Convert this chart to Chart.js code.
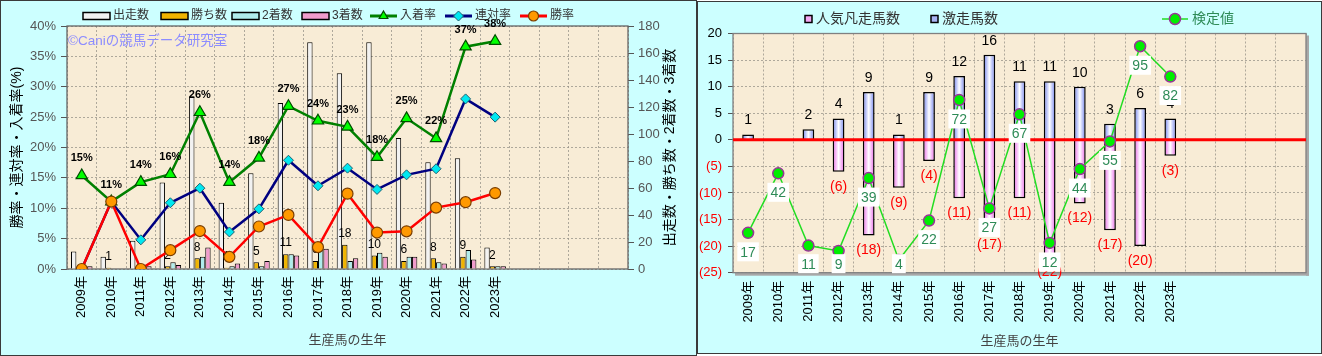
<!DOCTYPE html>
<html><head><meta charset="utf-8">
<script src="https://cdn.jsdelivr.net/npm/chart.js@4/dist/chart.umd.min.js"></script>
<style>
html,body{margin:0;padding:0;background:#fff;width:1322px;height:356px;overflow:hidden;}
#c1{position:absolute;left:0;top:0;}
#c2{position:absolute;left:697px;top:0;}
</style></head><body>
<canvas id="c1" width="697" height="356"></canvas>
<canvas id="c2" width="625" height="356"></canvas>
<script>
// ---------- data ----------
const categories = ['2009年','2010年','2011年','2012年','2013年','2014年','2015年','2016年','2017年','2018年','2019年','2020年','2021年','2022年','2023年','','','',''];
const runs     = [13, 9, 21, 64, 128, 49, 71, 123, 168, 145, 168, 97, 79, 82, 16];
const wins     = [0, 1, 0, 2, 8, 1, 5, 11, 6, 18, 10, 6, 8, 9, 2];
const seconds  = [0, 0, 1, 5, 9, 2, 2, 11, 16, 6, 12, 9, 5, 14, 2];
const thirds   = [2, 0, 2, 3, 16, 4, 6, 10, 15, 8, 9, 9, 4, 7, 2];
const placeRate    = [15.4, 11.1, 14.3, 15.6, 25.8, 14.3, 18.3, 26.8, 24.4, 23.4, 18.4, 24.8, 21.5, 36.6, 37.5];
const quinellaRate = [0, 11.1, 4.8, 10.9, 13.3, 6.1, 9.9, 17.9, 13.7, 16.6, 13.1, 15.5, 16.5, 28.0, 25.0];
const winRate      = [0, 11.1, 0, 3.1, 6.25, 2.0, 7.0, 8.9, 3.6, 12.4, 6.0, 6.2, 10.1, 11.0, 12.5];
const longshotCount = [1, 0, 2, 4, 9, 1, 9, 12, 16, 11, 11, 10, 3, 6, 4];
const favFlopCount  = [0, 0, 0, -6, -18, -9, -4, -11, -17, -11, -22, -12, -17, -20, -3];
const testPlot  = [-17.5, -6.3, -19.9, -20.9, -7.2, -22.6, -15.2, 7.5, -12.9, 4.8, -19.4, -5.5, -0.3, 17.6, 11.9];
const testValue = [17, 42, 11, 9, 39, 4, 22, 72, 27, 67, 12, 44, 55, 95, 82];
const leftAxisTitle = '勝率・連対率・入着率(%)';
const rightAxisTitle = '出走数・勝ち数・2着数・3着数';
const xAxisTitle = '生産馬の生年';
const watermark = '©Caniの競馬データ研究室';

Chart.defaults.font.family = "'Liberation Sans','Noto Sans CJK JP',sans-serif";

// ---------- plugins ----------
const panelPlugin = {
  id: 'panel',
  beforeDraw(chart, args, o) {
    const {ctx, chartArea: a} = chart;
    ctx.save();
    ctx.fillStyle = '#ccffff';
    ctx.fillRect(o.x, o.y, o.w, o.h);
    ctx.strokeStyle = '#3a3a3a'; ctx.lineWidth = 1;
    ctx.strokeRect(o.x + 0.5, o.y + 0.5, o.w - 1, o.h - 1);
    ctx.fillStyle = '#f8ecd6';
    ctx.fillRect(a.left, a.top, a.right - a.left, a.bottom - a.top);
    ctx.restore();
  },
  beforeDatasetsDraw(chart, args, o) {
    const {ctx, chartArea: a} = chart;
    ctx.save();
    if (o.shadow) {
      ctx.fillStyle = '#a8a8a8';
      ctx.fillRect(a.right, a.top + 2, 3, a.bottom - a.top + 1);
      ctx.fillRect(a.left + 2, a.bottom, a.right - a.left + 1, 3);
    }
    ctx.strokeStyle = o.frame; ctx.lineWidth = 1.3;
    ctx.strokeRect(a.left, a.top, a.right - a.left, a.bottom - a.top);
    ctx.restore();
  }
};

const legendPlugin = {
  id: 'sideLegend',
  afterDraw(chart, args, o) {
    const ctx = chart.ctx;
    ctx.save();
    ctx.font = o.font;
    ctx.textBaseline = 'middle';
    ctx.textAlign = 'left';
    chart.data.datasets.forEach((ds, i) => {
      const x = o.xs[i], y = o.y;
      if (ds.type === 'line') {
        ctx.strokeStyle = ds.borderColor; ctx.lineWidth = o.lineWidth || ds.borderWidth;
        ctx.beginPath(); ctx.moveTo(x, y); ctx.lineTo(x + o.lineW, y); ctx.stroke();
        ctx.fillStyle = ds.pointBackgroundColor; ctx.strokeStyle = ds.pointBorderColor; ctx.lineWidth = ds.pointBorderWidth;
        Chart.helpers.drawPoint(ctx, {pointStyle: ds.pointStyle || 'circle', radius: o.pointR || ds.pointRadius, rotation: 0, borderWidth: ds.pointBorderWidth}, x + o.lineW / 2, y);
        ctx.fillStyle = o.lineTextColor || o.textColor;
        ctx.fillText(ds.label, x + o.lineW + o.gap, y);
      } else {
        const w = o.boxW, h = o.boxH;
        ctx.fillStyle = o.boxFill[i];
        ctx.fillRect(x, y - h / 2, w, h);
        ctx.strokeStyle = '#000'; ctx.lineWidth = 1.5;
        ctx.strokeRect(x, y - h / 2, w, h);
        ctx.fillStyle = o.textColor;
        ctx.fillText(ds.label, x + w + o.gap, y);
      }
    });
    ctx.restore();
  }
};

const leftLabels = {
  id: 'leftLabels',
  beforeDatasetsDraw(chart) {
    const ctx = chart.ctx;
    ctx.save();
    ctx.fillStyle = '#8c8cff';
    ctx.font = "13.5px 'Liberation Sans','Noto Sans CJK JP'";
    ctx.textBaseline = 'middle'; ctx.textAlign = 'left';
    ctx.fillText(watermark, chart.chartArea.left + 1, 41);
    ctx.restore();
  },
  afterDatasetDraw(chart, args) {
    if (args.index !== 0) return;
    const ctx = chart.ctx;
    const meta = chart.getDatasetMeta(1);
    ctx.save();
    ctx.fillStyle = '#000';
    ctx.font = "12px 'Liberation Sans'";
    ctx.textAlign = 'center'; ctx.textBaseline = 'middle';
    wins.forEach((v, i) => {
      if (!v) return;
      const el = meta.data[i];
      ctx.fillText(String(v), el.x, el.y - 11);
    });
    ctx.restore();
  },
  afterDatasetsDraw(chart) {
    const ctx = chart.ctx;
    const meta = chart.getDatasetMeta(4);
    ctx.save();
    ctx.fillStyle = '#000';
    ctx.font = "bold 11px 'Liberation Sans'";
    ctx.textAlign = 'center'; ctx.textBaseline = 'middle';
    placeRate.forEach((v, i) => {
      const el = meta.data[i];
      ctx.fillText(Math.round(v) + '%', el.x, el.y - 17);
    });
    // right axis title (reads bottom to top)
    const a = chart.chartArea;
    ctx.font = "14px 'Liberation Sans','Noto Sans CJK JP'";
    ctx.translate(670, (a.top + a.bottom) / 2);
    ctx.rotate(-Math.PI / 2);
    ctx.fillText(rightAxisTitle, 0, 0);
    ctx.restore();
  }
};

const rightLabels = {
  id: 'rightLabels',
  beforeDatasetDraw(chart, args) {
    if (args.meta.type !== 'line') return;
    const {ctx, chartArea: a, scales} = chart;
    const y0 = scales.y.getPixelForValue(0);
    ctx.save();
    ctx.strokeStyle = '#ff0000'; ctx.lineWidth = 3;
    ctx.beginPath(); ctx.moveTo(a.left, y0); ctx.lineTo(a.right, y0); ctx.stroke();
    ctx.font = "14px 'Liberation Sans'";
    ctx.textAlign = 'center'; ctx.textBaseline = 'middle';
    const mPos = chart.getDatasetMeta(1), mNeg = chart.getDatasetMeta(0);
    longshotCount.forEach((v, i) => {
      if (!v) return;
      ctx.fillStyle = '#000';
      ctx.fillText(String(v), mPos.data[i].x, mPos.data[i].y - 14);
    });
    favFlopCount.forEach((v, i) => {
      if (!v) return;
      ctx.fillStyle = '#ff0000';
      ctx.fillText('(' + (-v) + ')', mNeg.data[i].x, mNeg.data[i].y + 15);
    });
    ctx.restore();
  },
  afterDatasetsDraw(chart) {
    const {ctx, chartArea: a} = chart;
    const meta = chart.getDatasetMeta(2);
    ctx.save();
    ctx.font = "14px 'Liberation Sans'";
    ctx.textAlign = 'center'; ctx.textBaseline = 'middle';
    testValue.forEach((v, i) => {
      const el = meta.data[i];
      const t = String(v);
      const w = ctx.measureText(t).width + 6, h = 19;
      const cy = Math.min(el.y + 19, a.bottom - 9);
      ctx.fillStyle = '#ffffff';
      ctx.fillRect(el.x - w / 2, cy - h / 2, w, h);
      ctx.fillStyle = '#2e8b57';
      ctx.fillText(t, el.x, cy + 1);
    });
    ctx.restore();
  }
};

function barGrad(edge) {
  return (c) => {
    const ch = c.chart, a = ch.chartArea;
    if (!a || c.type !== 'data') return edge;
    const cx = ch.scales.x.getPixelForValue(c.dataIndex);
    const bw = (a.right - a.left) / ch.data.labels.length * 0.39;
    const g = ch.ctx.createLinearGradient(cx - bw / 2, 0, cx + bw / 2, 0);
    g.addColorStop(0, edge); g.addColorStop(0.5, '#ffffff'); g.addColorStop(1, edge);
    return g;
  };
}

const gridColor = 'rgba(150,145,135,0.75)';

// ---------- left chart ----------
new Chart(document.getElementById('c1'), {
  type: 'bar',
  data: {
    labels: categories,
    datasets: [
      {label: '出走数', data: runs, yAxisID: 'y2', backgroundColor: '#f2f2f2', borderColor: '#000', borderWidth: 1, order: 10, categoryPercentage: 0.73, barPercentage: 1},
      {label: '勝ち数', data: wins, yAxisID: 'y2', backgroundColor: '#f0b400', borderColor: '#000', borderWidth: 1, order: 10, categoryPercentage: 0.73, barPercentage: 1},
      {label: '2着数', data: seconds, yAxisID: 'y2', backgroundColor: '#b0ecec', borderColor: '#000', borderWidth: 1, order: 10, categoryPercentage: 0.73, barPercentage: 1},
      {label: '3着数', data: thirds, yAxisID: 'y2', backgroundColor: '#f09ccc', borderColor: '#000', borderWidth: 1, order: 10, categoryPercentage: 0.73, barPercentage: 1},
      {type: 'line', label: '入着率', data: placeRate, yAxisID: 'y', borderColor: '#008000', borderWidth: 2.5, pointStyle: 'triangle', pointRadius: 6.5, pointBackgroundColor: '#00ff00', pointBorderColor: '#004d00', pointBorderWidth: 1.2, order: 3},
      {type: 'line', label: '連対率', data: quinellaRate, yAxisID: 'y', borderColor: '#000080', borderWidth: 2.5, pointStyle: 'rectRot', pointRadius: 5, pointBackgroundColor: '#00e8f0', pointBorderColor: '#206070', pointBorderWidth: 1, order: 2},
      {type: 'line', label: '勝率', data: winRate, yAxisID: 'y', borderColor: '#ff0000', borderWidth: 2.5, pointStyle: 'circle', pointRadius: 5.5, pointBackgroundColor: '#ff9900', pointBorderColor: '#7a3d00', pointBorderWidth: 1.2, order: 1}
    ]
  },
  options: {
    responsive: false, animation: false,
    layout: {padding: {top: 26, left: 0, right: 0, bottom: 0}},
    plugins: {
      legend: {display: false}, tooltip: {enabled: false},
      panel: {x: 0, y: 0, w: 697, h: 356, frame: '#666'},
      sideLegend: {y: 16, xs: [83, 161, 232, 302, 370, 445, 520], font: "12px 'Liberation Sans','Noto Sans CJK JP'", textColor: '#333', boxW: 27, boxH: 7, lineW: 27, gap: 3, lineWidth: 3, pointR: 5,
                   boxFill: ['#f2f2f2', '#f0b400', '#b0ecec', '#f09ccc']}
    },
    scales: {
      x: {
        grid: {offset: true, color: gridColor, drawTicks: false},
        border: {display: false, dash: [2, 2]},
        ticks: {autoSkip: false, minRotation: 90, maxRotation: 90, padding: 7, color: '#000', font: {size: 13}},
        title: {display: true, text: xAxisTitle, color: '#444', font: {size: 13}, padding: {top: 0, bottom: 8}},
        afterFit(s) { s.height = 87; }
      },
      y: {
        position: 'left', min: 0, max: 40,
        ticks: {stepSize: 5, callback: v => v + '%', color: '#555', font: {size: 13}, padding: 5},
        grid: {color: gridColor, tickLength: 6, tickColor: '#555'},
        border: {display: false, dash: [2, 2]},
        title: {display: true, text: leftAxisTitle, color: '#000', font: {size: 14}, padding: {top: 9, bottom: 0}},
        afterFit(s) { s.width = 67; }
      },
      y2: {
        position: 'right', min: 0, max: 180,
        ticks: {stepSize: 20, color: '#555', font: {size: 13}, padding: 4},
        grid: {drawOnChartArea: false, tickLength: 6, tickColor: '#555'},
        border: {display: false},
        afterFit(s) { s.width = 69; }
      }
    }
  },
  plugins: [panelPlugin, legendPlugin, leftLabels]
});

// ---------- right chart ----------
new Chart(document.getElementById('c2'), {
  type: 'bar',
  data: {
    labels: categories,
    datasets: [
      {label: '人気凡走馬数', data: favFlopCount, backgroundColor: barGrad('#ea66ea'), borderColor: '#000', borderWidth: 1.5, order: 2, categoryPercentage: 0.39, barPercentage: 1},
      {label: '激走馬数', data: longshotCount, backgroundColor: barGrad('#6f80ee'), borderColor: '#000', borderWidth: 1.5, order: 2, categoryPercentage: 0.39, barPercentage: 1},
      {type: 'line', label: '検定値', data: testPlot, borderColor: '#22dd22', borderWidth: 1.5, pointStyle: 'circle', pointRadius: 5.5, pointBackgroundColor: '#00ee00', pointBorderColor: '#993399', pointBorderWidth: 1.5, order: 0}
    ]
  },
  options: {
    responsive: false, animation: false,
    layout: {padding: {top: 33.5, left: 0, right: 16, bottom: 0}},
    plugins: {
      legend: {display: false}, tooltip: {enabled: false},
      panel: {x: 0, y: 1, w: 625, h: 353, frame: '#808080', shadow: true},
      sideLegend: {y: 19, xs: [108, 234, 465], font: "14px 'Liberation Sans','Noto Sans CJK JP'", textColor: '#333', lineTextColor: '#2e8b57', boxW: 7, boxH: 7, lineW: 26, gap: 4, lineWidth: 1.5,
                   boxFill: ['#f4a8f4', '#a8b4f4']}
    },
    scales: {
      x: {
        stacked: true,
        grid: {offset: true, color: gridColor, drawTicks: false},
        border: {display: false, dash: [2, 2]},
        ticks: {autoSkip: false, minRotation: 90, maxRotation: 90, padding: 8, color: '#000', font: {size: 13}},
        title: {display: true, text: xAxisTitle, color: '#444', font: {size: 13}, padding: {top: 0, bottom: 7}},
        afterFit(s) { s.height = 83.3; }
      },
      y: {
        stacked: true, min: -25, max: 20,
        ticks: {stepSize: 5, callback: v => v < 0 ? '(' + (-v) + ')' : String(v), color: c => c.tick && c.tick.value < 0 ? '#ff0000' : '#000', font: {size: 13}, padding: 6},
        grid: {color: gridColor, tickLength: 5, tickColor: '#555'},
        border: {display: false, dash: [2, 2]},
        afterFit(s) { s.width = 36; }
      }
    }
  },
  plugins: [panelPlugin, legendPlugin, rightLabels]
});
</script>
</body></html>
